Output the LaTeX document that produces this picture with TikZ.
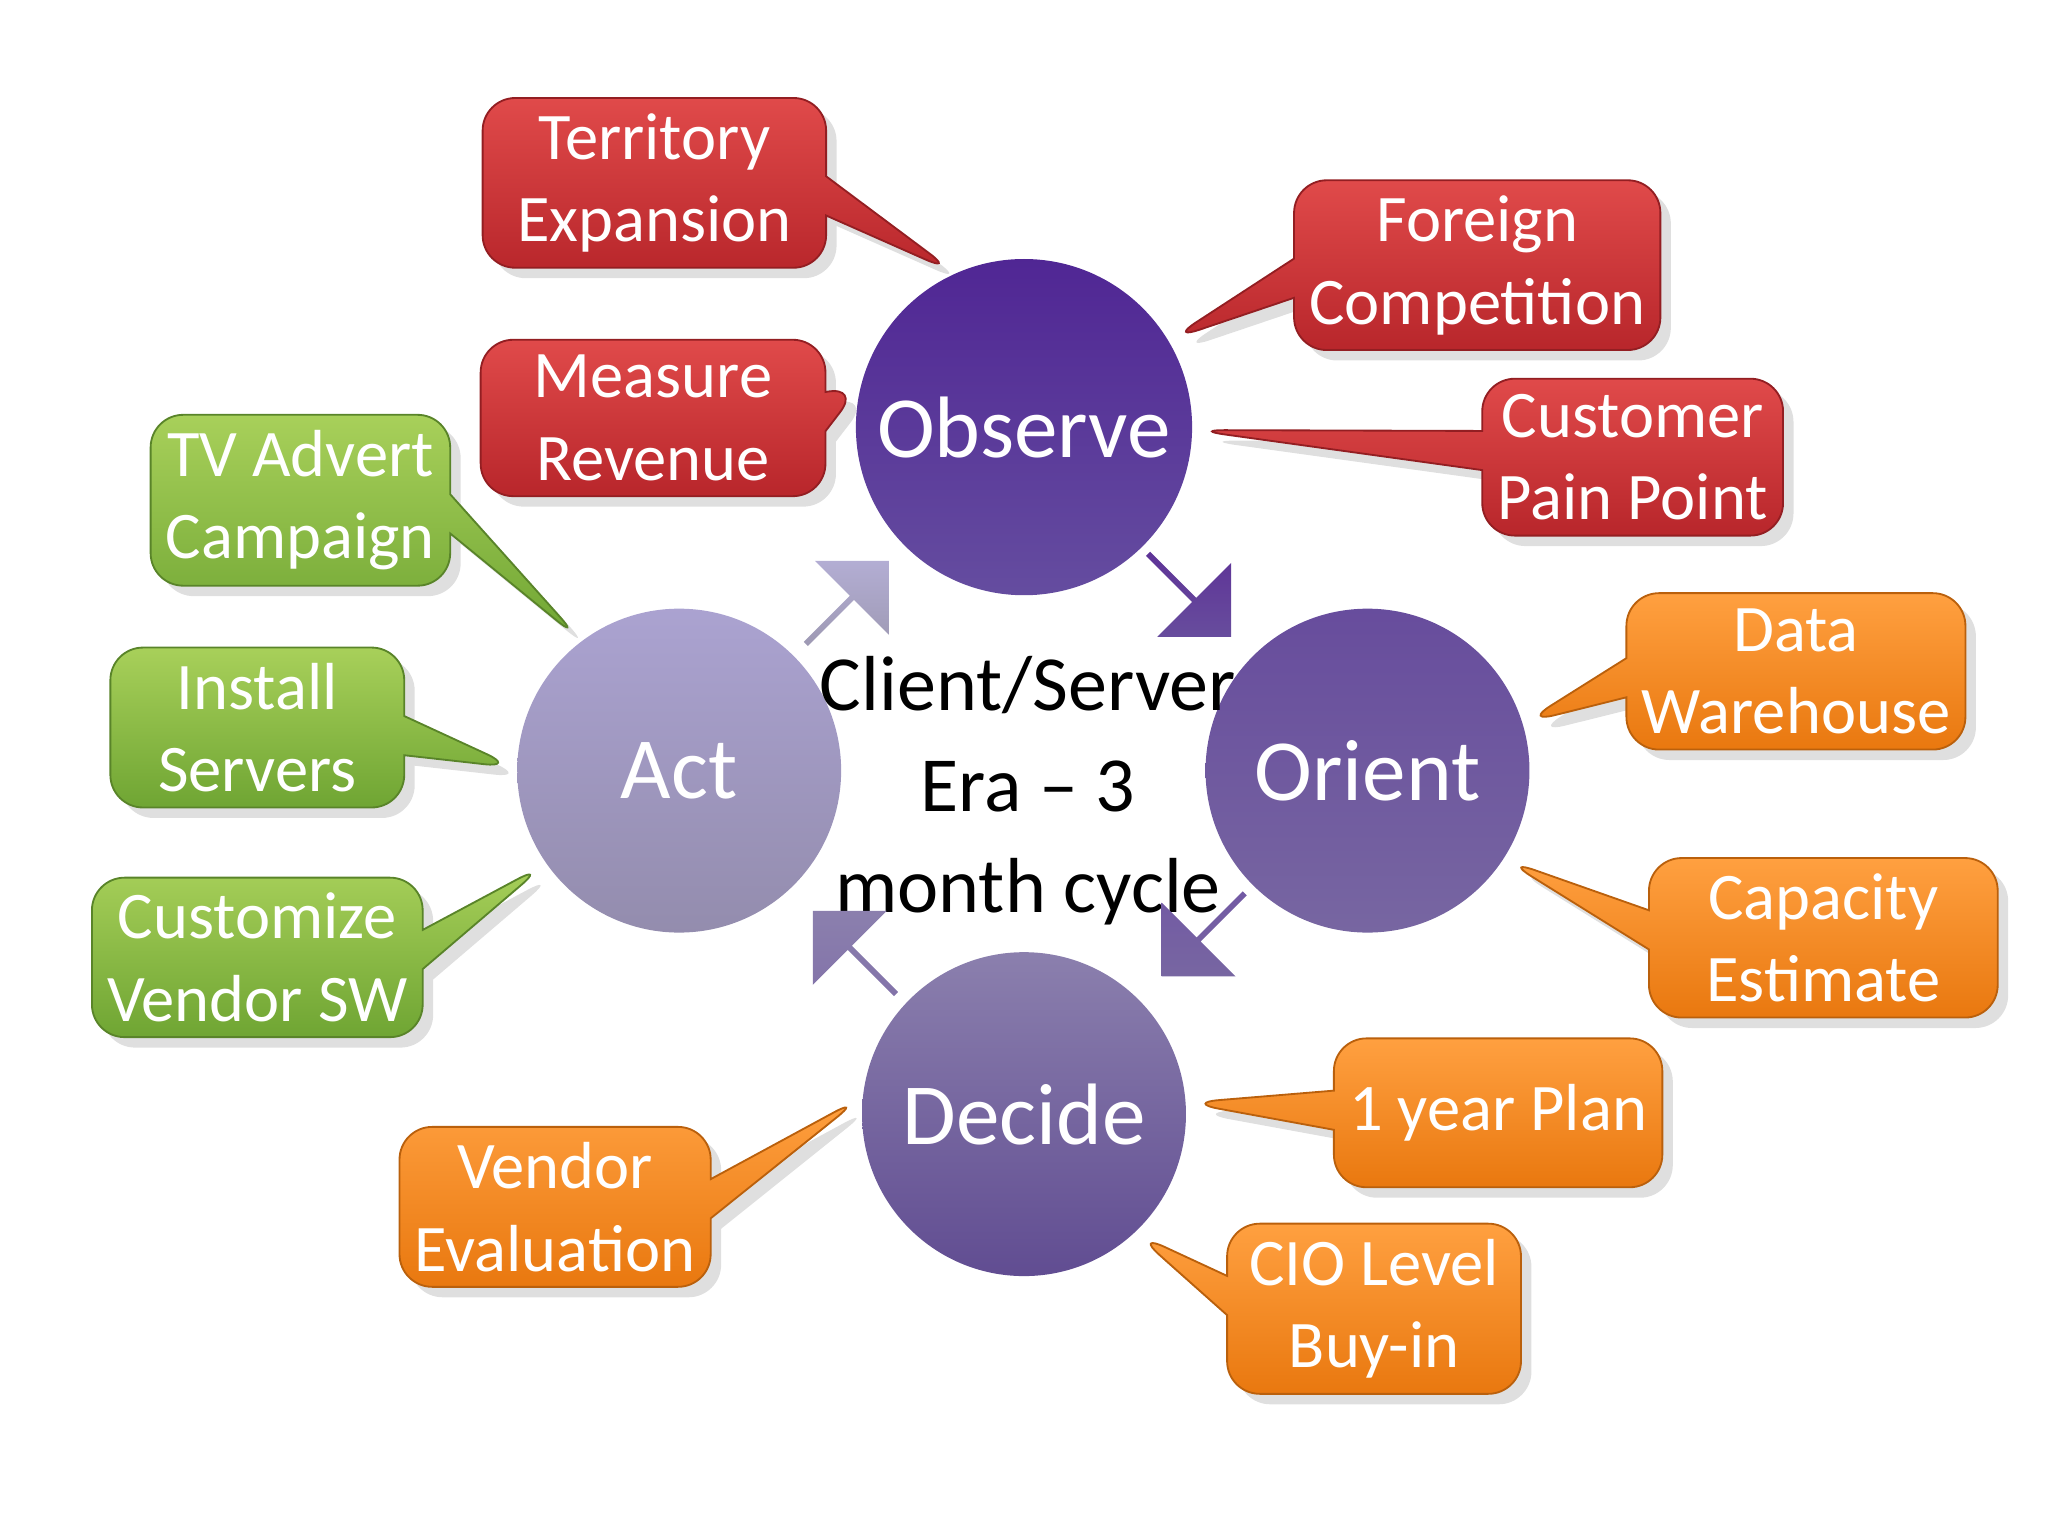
\documentclass[tikz,border=0pt]{standalone}
\usepackage{fontspec}
\setmainfont{Carlito}
\usetikzlibrary{shapes.callouts,shapes.arrows,shadows}
\definecolor{redtop}{HTML}{E04A4A}
\definecolor{redbot}{HTML}{B8262B}
\definecolor{grntop}{HTML}{A8D05A}
\definecolor{grnbot}{HTML}{6FA533}
\definecolor{orgtop}{HTML}{FFA040}
\definecolor{orgbot}{HTML}{E9780F}
\begin{document}
\begin{tikzpicture}[
        x=0.1mm, y=-0.1mm,
        phase/.style = {circle, minimum size=24.8mm, font=\fontsize{19}{22}\selectfont, text=white},
        callbox/.style = {rectangle callout, rounded corners=2.5mm, minimum width=22.5mm, minimum height=11.4mm,
            align=center, text=white, font=\fontsize{14.5}{18}\selectfont, callout pointer width=3mm,
            drop shadow={opacity=0.25, shadow xshift=0.8mm, shadow yshift=-0.8mm}},
        red/.style = {callbox, top color=redtop, bottom color=redbot, draw=redbot!80!black},
        green/.style = {callbox, top color=grntop, bottom color=grnbot, draw=grnbot!80!black},
        orange/.style = {callbox, top color=orgtop, bottom color=orgbot, draw=orgbot!80!black},
        turn/.style = {single arrow, minimum height=9mm, minimum width=8mm, single arrow head extend=1.2mm,
            inner sep=0pt}
    ]
    \useasboundingbox (0,0) rectangle (1568,1176);

    % OODA circles
    \node[phase, top color=violet!55!blue!70!black!85, bottom color=violet!45!blue!60!black!70] (observe) at (784,327) {Observe};
    \node[phase, top color=violet!50!blue!60!black!70, bottom color=violet!45!blue!50!black!60] (orient) at (1047,590) {Orient};
    \node[phase, top color=violet!40!blue!45!black!50!white, bottom color=violet!45!blue!50!black!70] (decide) at (784,853) {Decide};
    \node[phase, top color=violet!30!blue!25!white!85!black, bottom color=violet!35!blue!35!black!45!white] (act) at (520,590) {Act};

    % centre text
    \node[align=center, font=\fontsize{17}{22}\selectfont] (era) at (787,605) {Client/Server\\Era -- 3\\month cycle};

    % cycle arrows
    \node[turn, rotate=-45, top color=violet!60!blue!70!black!80, bottom color=violet!50!blue!60!black!70] (a1) at (910,455) {};
    \node[turn, rotate=-135, top color=violet!50!blue!60!black!65, bottom color=violet!45!blue!50!black!60] (a2) at (922,715) {};
    \node[turn, rotate=135, top color=violet!40!blue!45!black!50!white, bottom color=violet!45!blue!50!black!55] (a3) at (655,730) {};
    \node[turn, rotate=45, top color=violet!25!blue!20!white!85!black, bottom color=violet!30!blue!30!black!40!white] (a4) at (648,462) {};

    % Observe callouts
    \node[red, minimum width=26.3mm, callout absolute pointer={(observe.114)}] (territory) at (501,140) {Territory\\Expansion};
    \node[red, minimum width=25.8mm, callout absolute pointer={(observe.31)}] (foreign) at (1131,203) {Foreign\\Competition};
    \node[red, minimum width=26.4mm, callout absolute pointer={(observe.166)}] (measure) at (500,320) {Measure\\Revenue};
    \node[red, callout absolute pointer={(observe.-1)}] (customer) at (1250,350) {Customer\\Pain Point};

    % Act callouts
    \node[green, callout absolute pointer={(act.127)}] (tvadvert) at (230,383) {TV Advert\\Campaign};
    \node[green, callout absolute pointer={(act.179)}] (install) at (197,557) {Install\\Servers};
    \node[green, callout absolute pointer={(act.215)}] (customize) at (197,733) {Customize\\Vendor SW};

    % Orient callouts
    \node[orange, callout absolute pointer={(orient.17)}] (warehouse) at (1375,514) {Data\\Warehouse};
    \node[orange, minimum width=26.7mm, callout absolute pointer={(orient.-33)}] (capacity) at (1396,718) {Capacity\\Estimate};

    % Decide callouts
    \node[orange, callout absolute pointer={(decide.4)}] (plan) at (1147,852) {1 year Plan};
    \node[orange, callout absolute pointer={(decide.174)}] (vendor) at (425,924) {Vendor\\Evaluation};
    \node[orange, callout absolute pointer={(decide.-47)}] (cio) at (1052,1002) {CIO Level\\Buy-in};
\end{tikzpicture}
\end{document}
